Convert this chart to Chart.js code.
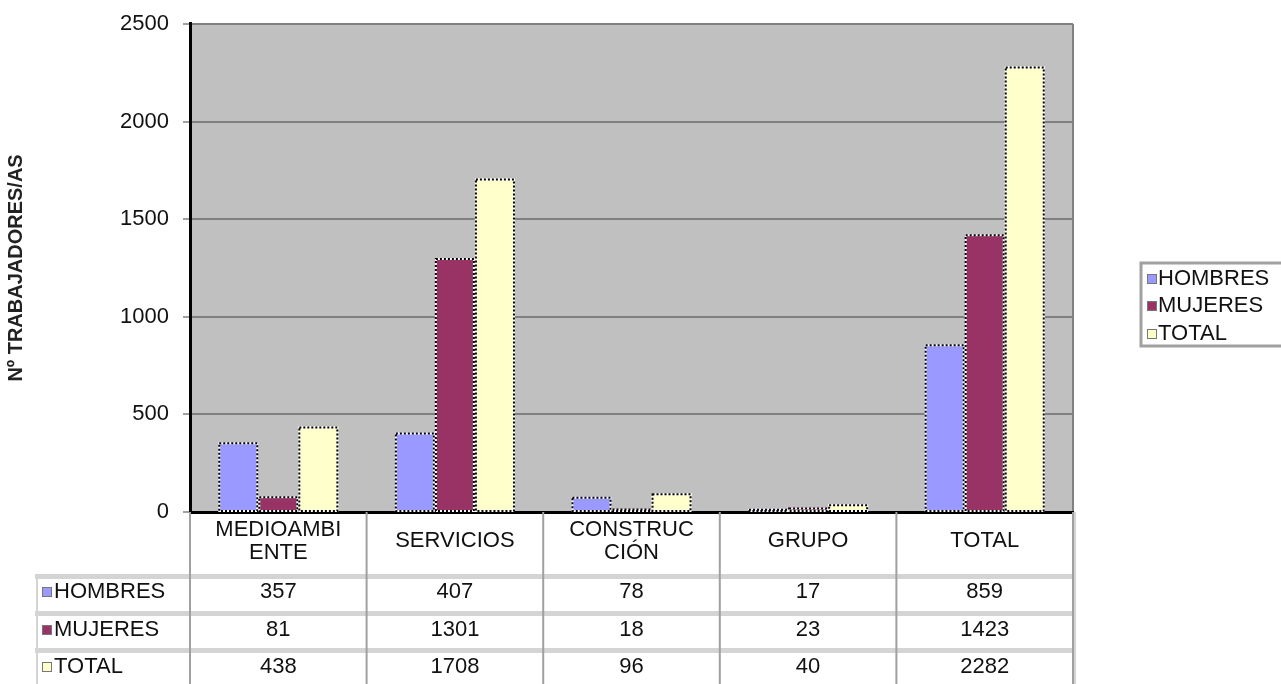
<!DOCTYPE html>
<html lang="es">
<head>
    <meta charset="UTF-8">
    <title>Nº trabajadores/as por área</title>
    <script src="https://cdn.jsdelivr.net/npm/chart.js"></script>
    <style>
        body {
            margin: 0;
            background: #fff;
            font-family: "Liberation Sans", Arial, sans-serif;
        }
        .container {
            width: 1281px;
            height: 684px;
            position: relative;
        }
    </style>
</head>
<body>
    <div class="container">
        <canvas id="plantillaChart"></canvas>
    </div>

    <script>
        // datos
        const categorias = [["MEDIOAMBI", "ENTE"], ["SERVICIOS"], ["CONSTRUC", "CIÓN"], ["GRUPO"], ["TOTAL"]];
        const hombres = [357, 407, 78, 17, 859];
        const mujeres = [81, 1301, 18, 23, 1423];
        const total = [438, 1708, 96, 40, 2282];
        const series = ["HOMBRES", "MUJERES", "TOTAL"];
        const colores = ["#9999FF", "#993366", "#FFFFCC"];
        const yTicks = [0, 500, 1000, 1500, 2000, 2500];

        const FONT = '"Liberation Sans", Arial, sans-serif';

        // fondo gris del área de trazado
        const plotBg = {
            id: "plotBg",
            beforeDraw(chart) {
                const { ctx, chartArea: a } = chart;
                ctx.save();
                ctx.fillStyle = "#C0C0C0";
                ctx.fillRect(a.left, a.top, a.right - a.left, a.bottom - a.top);
                ctx.strokeStyle = "#808080";
                ctx.lineWidth = 2;
                ctx.beginPath();
                ctx.moveTo(a.right, a.top);
                ctx.lineTo(a.right, a.bottom);
                ctx.stroke();
                ctx.restore();
            }
        };

        // borde punteado de las barras
        const dottedBars = {
            id: "dottedBars",
            afterDatasetsDraw(chart) {
                const ctx = chart.ctx;
                ctx.save();
                chart.data.datasets.forEach((ds, i) => {
                    chart.getDatasetMeta(i).data.forEach(bar => {
                        const l = bar.x - bar.width / 2;
                        const w = bar.width;
                        const t = bar.y;
                        const h = bar.base - bar.y;
                        if (h < 1) return;
                        ctx.lineWidth = 2;
                        ctx.setLineDash([]);
                        ctx.strokeStyle = "#ffffff";
                        ctx.strokeRect(l + 1, t + 1, w - 2, h - 1);
                        ctx.setLineDash([2, 2]);
                        ctx.strokeStyle = "#000000";
                        ctx.strokeRect(l + 1, t + 1, w - 2, h - 1);
                    });
                });
                ctx.restore();
            }
        };

        // tabla de datos bajo el eje y leyenda de la derecha
        const dataTable = {
            id: "dataTable",
            afterDraw(chart) {
                const { ctx, chartArea: a } = chart;
                const x = chart.scales.x;
                const step = x.getPixelForValue(1) - x.getPixelForValue(0);
                const rowsTop = 574;
                const rowY = [592, 630, 667];
                const seps = [574, 611, 648];
                ctx.save();

                // separadores horizontales
                ctx.fillStyle = "#D4D4D4";
                seps.forEach(y => ctx.fillRect(35, y, a.right - 35 + 3, 5));

                // líneas verticales
                ctx.strokeStyle = "#A0A0A0";
                ctx.lineWidth = 2;
                ctx.beginPath();
                for (let i = 0; i <= categorias.length; i++) {
                    const xx = x.getPixelForValue(0) - step / 2 + i * step;
                    ctx.moveTo(xx, a.bottom);
                    ctx.lineTo(xx, 684);
                }
                ctx.stroke();
                ctx.strokeStyle = "#D4D4D4";
                ctx.beginPath();
                ctx.moveTo(37, rowsTop);
                ctx.lineTo(37, 684);
                ctx.moveTo(a.right + 2, a.bottom);
                ctx.lineTo(a.right + 2, 684);
                ctx.stroke();

                // cabeceras
                ctx.fillStyle = "#111";
                ctx.font = "22px " + FONT;
                ctx.textAlign = "center";
                ctx.textBaseline = "middle";
                categorias.forEach((lab, i) => {
                    const cx = x.getPixelForValue(i);
                    if (lab.length === 2) {
                        ctx.fillText(lab[0], cx, 530);
                        ctx.fillText(lab[1], cx, 553);
                    } else {
                        ctx.fillText(lab[0], cx, 541);
                    }
                });

                // valores
                chart.data.datasets.forEach((ds, r) => {
                    ctx.textAlign = "center";
                    ds.data.forEach((v, i) => {
                        ctx.fillText(String(v), x.getPixelForValue(i), rowY[r]);
                    });
                    // clave de la serie
                    ctx.fillStyle = ds.backgroundColor;
                    ctx.fillRect(42, rowY[r] - 5, 10, 10);
                    ctx.strokeStyle = "#777";
                    ctx.lineWidth = 1;
                    ctx.strokeRect(42.5, rowY[r] - 4.5, 9, 9);
                    ctx.fillStyle = "#111";
                    ctx.textAlign = "left";
                    ctx.fillText(ds.label, 54, rowY[r]);
                });

                // leyenda
                ctx.strokeStyle = "#A0A0A0";
                ctx.lineWidth = 3;
                ctx.strokeRect(1141, 263, 160, 83);
                const legY = [279, 306, 334];
                chart.data.datasets.forEach((ds, r) => {
                    ctx.fillStyle = ds.backgroundColor;
                    ctx.fillRect(1147, legY[r] - 5, 10, 10);
                    ctx.strokeStyle = "#777";
                    ctx.lineWidth = 1;
                    ctx.strokeRect(1147.5, legY[r] - 4.5, 9, 9);
                    ctx.fillStyle = "#111";
                    ctx.textAlign = "left";
                    ctx.fillText(ds.label, 1158, legY[r]);
                });
                ctx.restore();
            }
        };

        const ctx = document.getElementById("plantillaChart").getContext("2d");
        new Chart(ctx, {
            type: "bar",
            data: {
                labels: categorias,
                datasets: [
                    { label: series[0], data: hombres, backgroundColor: colores[0] },
                    { label: series[1], data: mujeres, backgroundColor: colores[1] },
                    { label: series[2], data: total, backgroundColor: colores[2] }
                ]
            },
            options: {
                responsive: true,
                maintainAspectRatio: false,
                animation: false,
                categoryPercentage: 0.68,
                barPercentage: 1.0,
                layout: { padding: { top: 22, right: 208, bottom: 0, left: 0 } },
                plugins: {
                    legend: { display: false },
                    tooltip: { enabled: false }
                },
                scales: {
                    x: {
                        ticks: { display: false },
                        grid: { display: false },
                        border: { color: "#000", width: 3 },
                        afterFit(scale) { scale.height = 172; }
                    },
                    y: {
                        min: 0,
                        max: 2500,
                        afterBuildTicks(scale) { scale.ticks = yTicks.map(v => ({ value: v })); },
                        ticks: {
                            font: { family: FONT, size: 22, lineHeight: 0.9 },
                            color: "#111",
                            padding: 14,
                            callback: v => String(v)
                        },
                        grid: {
                            color: "#808080",
                            lineWidth: 2,
                            tickLength: 7,
                            tickColor: "#A0A0A0"
                        },
                        border: { color: "#000", width: 3 },
                        title: {
                            display: true,
                            text: "Nº TRABAJADORES/AS",
                            font: { family: FONT, size: 20, weight: "bold" },
                            color: "#222",
                            padding: { top: 4, bottom: 0 }
                        },
                        afterFit(scale) { scale.width = 190; }
                    }
                }
            },
            plugins: [plotBg, dottedBars, dataTable]
        });
    </script>
</body>
</html>
